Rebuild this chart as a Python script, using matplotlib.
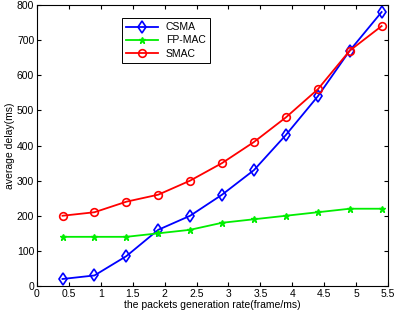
import matplotlib
matplotlib.use("Agg")
from matplotlib import pyplot as plt

rate = [0.4, 0.9, 1.4, 1.9, 2.4, 2.9, 3.4, 3.9, 4.4, 4.9, 5.4]
csma = [20, 30, 85, 160, 200, 260, 330, 430, 540, 670, 780]
fpmac = [140, 140, 140, 150, 160, 180, 190, 200, 210, 220, 220]
smac = [200, 210, 240, 260, 300, 350, 410, 480, 560, 670, 740]

plt.rcParams['font.family'] = 'Liberation Sans'
plt.rcParams['font.size'] = 7.5

fig = plt.figure(figsize=(3.96, 3.15), dpi=100)
ax = fig.add_axes([37/396, 1 - 286/315, 351/396, 281/315])

ax.plot(rate, csma, color="blue", marker="d", markersize=6, markerfacecolor="none",
        markeredgewidth=1.2, linewidth=1.3, label="CSMA")
ax.plot(rate, fpmac, color="#00ee00", marker="*", markersize=5,
        linewidth=1.3, label="FP-MAC")
ax.plot(rate, smac, color="red", marker="o", markersize=5.5, markerfacecolor="none",
        markeredgewidth=1.2, linewidth=1.3, label="SMAC")

ax.set_xlim(0, 5.5)
ax.set_ylim(0, 800)
ax.set_xticks([0, 0.5, 1, 1.5, 2, 2.5, 3, 3.5, 4, 4.5, 5, 5.5])
ax.set_xticklabels(['0', '0.5', '1', '1.5', '2', '2.5', '3', '3.5', '4', '4.5', '5', '5.5'])
ax.set_yticks(range(0, 801, 100))
ax.tick_params(direction="in", top=True, right=True, length=3, pad=2)
ax.set_xlabel("the packets generation rate(frame/ms)", labelpad=1)
ax.set_ylabel("average delay(ms)", labelpad=1)

leg = ax.legend(loc="upper left", bbox_to_anchor=(80/351, 1 - 8/281), fancybox=False,
                edgecolor="black", framealpha=1, borderpad=0.4, handlelength=3,
                labelspacing=0.3)
leg.get_frame().set_linewidth(0.7)

fig.savefig("out.png", dpi=100)
